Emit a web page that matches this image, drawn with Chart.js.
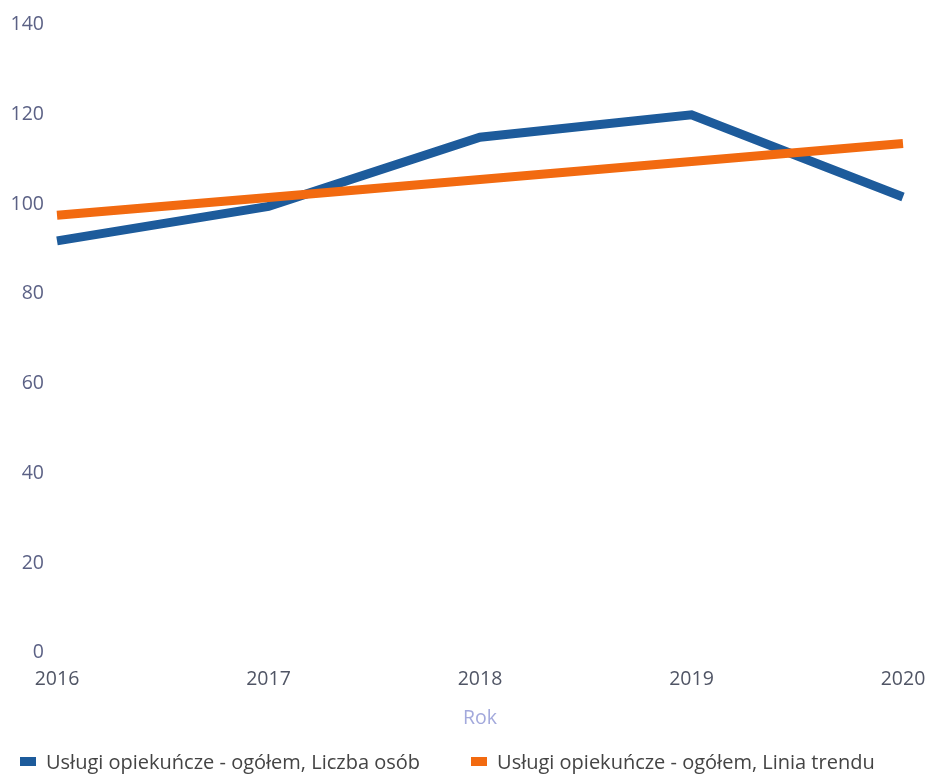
<!DOCTYPE html>
<html lang="pl">
<head>
  <meta charset="UTF-8">
  <title>Usługi opiekuńcze - ogółem</title>
  <script src="https://cdn.jsdelivr.net/npm/chart.js"></script>
  <style>
    html, body { margin: 0; padding: 0; background: #fff; }
    #wrap { width: 930px; height: 775px; position: relative; }
    #legend {
      position: absolute; left: 20px; top: 748px;
      display: flex; font-family: 'Open Sans', sans-serif; font-size: 20px; color: #444;
      white-space: nowrap;
    }
    #legend .item { display: flex; align-items: center; margin-right: 51px; }
    #legend .box { width: 16px; height: 9px; margin-right: 10px; }
  </style>
</head>
<body>
  <div id="wrap">
    <canvas id="chart"></canvas>
    <div id="legend"></div>
  </div>
  <script>
    // values
    const years = ['2016', '2017', '2018', '2019', '2020'];
    const liczbaOsob = [91.8, 99.5, 114.9, 119.9, 101.6];
    const liniaTrendu = [97.5, 101.5, 105.5, 109.5, 113.5];
    const yTicks = [0, 20, 40, 60, 80, 100, 120, 140];

    const fontFamily = "'Open Sans', sans-serif";
    const fontSize = 19.5;

    const chart = new Chart(document.getElementById('chart'), {
      type: 'line',
      data: {
        labels: years,
        datasets: [
          {
            label: 'Usługi opiekuńcze - ogółem, Liczba osób',
            data: liczbaOsob,
            borderColor: '#1d5b9b',
            backgroundColor: '#1d5b9b',
            borderWidth: 9,
            tension: 0,
            pointRadius: 0,
            order: 2
          },
          {
            label: 'Usługi opiekuńcze - ogółem, Linia trendu',
            data: liniaTrendu,
            borderColor: '#f26a10',
            backgroundColor: '#f26a10',
            borderWidth: 9,
            tension: 0,
            pointRadius: 0,
            order: 1
          }
        ]
      },
      options: {
        responsive: true,
        maintainAspectRatio: false,
        animation: false,
        layout: { padding: { left: 9, right: 0, top: 19, bottom: 44.5 } },
        plugins: {
          tooltip: { enabled: false },
          legend: { display: false }
        },
        scales: {
          x: {
            grid: { display: false, drawTicks: false },
            border: { display: false },
            ticks: { color: '#505565', font: { family: fontFamily, size: fontSize }, padding: 15, maxRotation: 0 },
            title: { display: true, text: 'Rok', color: '#a3a9dc', font: { family: fontFamily, size: fontSize }, padding: { top: 1, bottom: 0 } },
            afterFit: s => { s.paddingLeft = 0; s.paddingRight = 27; }
          },
          y: {
            min: 0,
            max: 140,
            afterBuildTicks: axis => { axis.ticks = yTicks.map(v => ({ value: v })); },
            afterFit: s => { s.width = 48; },
            grid: { display: false, drawTicks: false },
            border: { display: false },
            ticks: { color: '#5b6185', font: { family: fontFamily, size: fontSize }, padding: 13 }
          }
        }
      }
    });

    // legend built from the datasets
    const legend = document.getElementById('legend');
    chart.data.datasets.forEach(ds => {
      const item = document.createElement('div');
      item.className = 'item';
      const box = document.createElement('span');
      box.className = 'box';
      box.style.background = ds.borderColor;
      const txt = document.createElement('span');
      txt.textContent = ds.label;
      item.appendChild(box);
      item.appendChild(txt);
      legend.appendChild(item);
    });
  </script>
</body>
</html>
